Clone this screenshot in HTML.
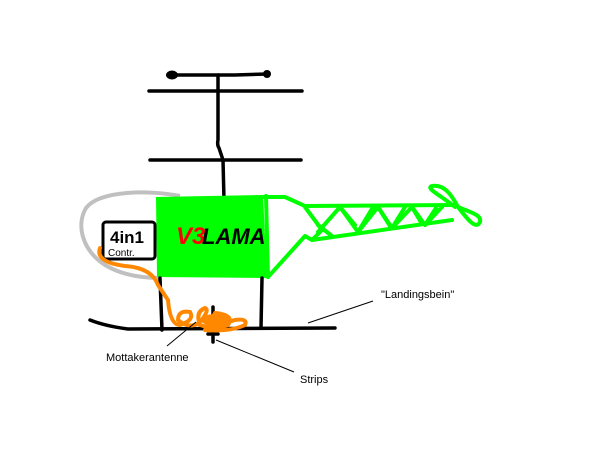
<!DOCTYPE html>
<html><head><style>body{margin:0;background:#fff}svg{display:block}</style></head><body>
<svg width="616" height="473" viewBox="0 0 616 473" xmlns="http://www.w3.org/2000/svg" font-family="Liberation Sans, sans-serif">
<rect width="616" height="473" fill="#fff"/>
<g stroke="#000" stroke-width="3.5" fill="none" stroke-linecap="round">
<path d="M170 75 L235 75 L268 74"/>
<path d="M149 91 L302 91"/>
<path d="M150 160 L301 160"/>
<path d="M218 75 L218 140 Q217 145 219 148 L223 160 L224 200"/>
</g>
<ellipse cx="172" cy="75" rx="6" ry="4.5" fill="#000"/>
<circle cx="267" cy="74" r="4" fill="#000"/>
<path d="M180 196 C150 190 100 190 86 208 C76 225 82 250 105 265 C120 274 140 278 160 278" stroke="#c0c0c0" stroke-width="4" fill="none"/>
<path d="M156 197 L263 195 L267 278 L157 277 Z" fill="#00ff00"/>
<g stroke="#00ff00" stroke-width="4" fill="none" stroke-linecap="round" stroke-linejoin="round">
<path d="M263 197 L285 197 L305 206 L455 205"/>
<path d="M268 277 L305 236 L312 240 L452 220"/>
<path d="M266 196 L268 277"/>
<path d="M312 240 L322 230 L305 207"/>
<path d="M318 232 L340 207 L358 232 L378 207 L392 228 L412 207 L425 225 L442 207"/>
<path d="M318 225 L332 236 M340 207 L355 225 M358 232 L373 207 M378 207 L390 226 M392 228 L405 207 M412 207 L422 224 M425 225 L436 208"/>
<path d="M455 207 C440 195 425 188 432 186 C445 184 452 196 458 207 C470 212 482 215 480 222 C476 230 468 220 458 207"/>
</g>
<text x="176" y="244" font-size="24" fill="#ff0000" font-weight="bold" font-style="italic">V3</text>
<text x="202" y="244" font-size="22" fill="#000" font-weight="bold" font-style="italic">LAMA</text>
<rect x="103" y="222" width="52" height="37" rx="3" fill="#fff" stroke="#000" stroke-width="3"/>
<text x="110" y="243" font-size="17" font-weight="bold" fill="#000">4in1</text>
<text x="108" y="256" font-size="10" fill="#000">Contr.</text>
<g stroke="#000" stroke-width="3.5" fill="none" stroke-linecap="round">
<path d="M160 278 L162 330"/>
<path d="M262 278 L261 328"/>
<path d="M90 320 Q105 326 128 329 L335 328"/>
<path d="M213 307 L213 342 M208 334 L218 334"/>
</g>
<g stroke="#ff8800" stroke-width="4" fill="none" stroke-linecap="round">
<path d="M100 248 Q95 262 125 266 Q152 268 158 285 L168 300 Q170 325 180 325 Q195 320 190 312 Q178 310 178 320 Q190 330 200 322 Q210 310 205 308 Q195 312 200 325 Q215 330 228 325 Q235 315 215 313 Q210 320 225 323 L235 320 Q248 318 245 325 Q230 332 205 330"/>
</g>
<ellipse cx="215" cy="320" rx="14" ry="6" fill="#ff8800"/>
<g stroke="#000" stroke-width="1" fill="none">
<line x1="308" y1="323" x2="373" y2="301"/>
<line x1="167" y1="346" x2="196" y2="322"/>
<line x1="216" y1="340" x2="294" y2="372"/>
</g>
<g font-size="11" fill="#000">
<text x="381" y="298">"Landingsbein"</text>
<text x="106" y="361">Mottakerantenne</text>
<text x="300" y="383">Strips</text>
</g>
</svg>
</body></html>
